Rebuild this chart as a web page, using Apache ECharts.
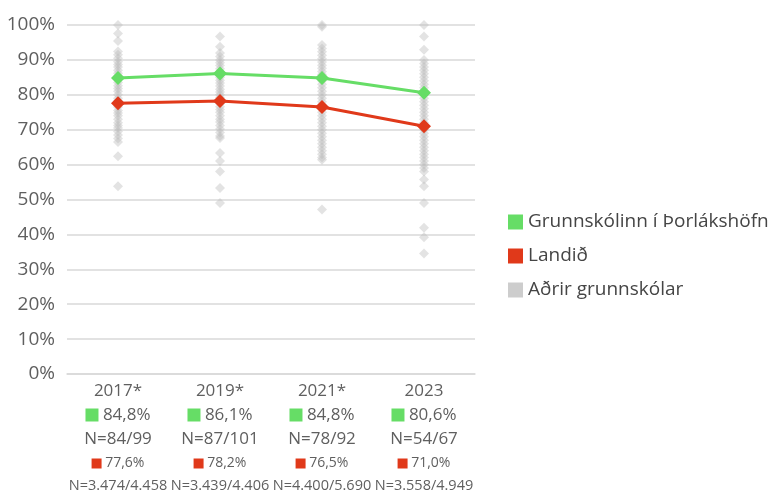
<!DOCTYPE html>
<html>
<head>
<meta charset="utf-8">
<script src="https://cdn.jsdelivr.net/npm/echarts@6/dist/echarts.min.js"></script>
<style>html,body{margin:0;padding:0;background:#fff}#c{width:771px;height:493px}</style>
</head>
<body>
<div id="c"></div>
<script>
const years = ['2017*', '2019*', '2021*', '2023'];
const schoolValues = [84.8, 86.1, 84.8, 80.6];
const schoolN = ['N=84/99', 'N=87/101', 'N=78/92', 'N=54/67'];
const nationValues = [77.6, 78.2, 76.5, 71.0];
const nationN = ['N=3.474/4.458', 'N=3.439/4.406', 'N=4.400/5.690', 'N=3.558/4.949'];
const yTicks = [0, 10, 20, 30, 40, 50, 60, 70, 80, 90, 100];

const others2017 = [100, 97.6, 95.4, 92.4, 91.5, 90.5, 89.5, 88.7, 88, 87, 86.2, 85.4, 84.5, 83.5, 82.6, 81.8, 81, 80, 79, 78.3, 77.5, 76.5, 75.5, 74.8, 74, 73, 72, 71.2, 70.5, 69.5, 68.5, 67.5, 66.5, 62.4, 53.8];
const others2019 = [96.7, 93.8, 92, 91, 90, 89.2, 88.4, 87.5, 86.6, 85.8, 85, 84.2, 83.4, 82.5, 81.6, 80.8, 80, 79.2, 78.4, 77.5, 76.6, 75.8, 75, 74, 73, 72.2, 71.2, 70.2, 69.2, 68.2, 67.6, 63.3, 61, 58, 53.3, 49];
const others2021 = [100, 99.5, 94.3, 93.3, 92.3, 91.3, 90.3, 89.4, 88.5, 87.6, 86.7, 85.8, 85, 84, 83, 82, 81, 80, 79, 78, 77, 76, 75, 74, 73, 72, 71, 70, 69, 68, 67, 66, 65, 64, 63, 62, 61.4, 47.1];
const others2023 = [100, 96.7, 92.9, 90, 89, 88, 87, 86, 85, 84, 83, 82, 81, 80, 79, 78, 77, 76, 75, 74, 73, 72, 71, 70, 69, 68, 67, 66, 65, 64, 63, 62, 61, 60, 59, 58, 55.7, 53.8, 49, 41.9, 39.2, 34.5];

const othersByYear = [others2017, others2019, others2021, others2023];
const othersData = [];
othersByYear.forEach((arr, i) => arr.forEach(v => othersData.push([i, v])));

const GREEN = '#66dd66';
const RED = '#e0391a';
const GREY = '#c0c0c0';
const FONT = 'Open Sans';
const TXT = '#5f5f5f';

const fmt = v => v.toFixed(1).replace('.', ',') + '%';

const chart = echarts.init(document.getElementById('c'), null, {renderer: 'canvas'});
chart.setOption({
  animation: false,
  textStyle: {fontFamily: FONT},
  grid: {left: 67, right: 296, top: 25, bottom: 118},
  legend: {
    orient: 'vertical',
    left: 503,
    top: 205,
    itemWidth: 15,
    itemHeight: 15,
    itemGap: 10,
    icon: 'rect',
    textStyle: {fontFamily: FONT, fontSize: 19, color: '#454545', lineHeight: 24},
    data: [
      {name: 'Grunnskólinn í Þorlákshöfn', itemStyle: {color: GREEN}},
      {name: 'Landið', itemStyle: {color: RED}},
      {name: 'Aðrir grunnskólar', itemStyle: {color: GREY}}
    ]
  },
  xAxis: {
    type: 'category',
    data: years,
    boundaryGap: true,
    axisLine: {lineStyle: {color: '#d9d9d9', width: 1.5}},
    axisTick: {show: false},
    axisLabel: {
      interval: 0,
      margin: 5,
      formatter: (v, i) => '{y|' + v + '}\n{gs|}{gv| ' + fmt(schoolValues[i]) + '}\n{n|' + schoolN[i] + '}\n{rs|}{rv| ' + fmt(nationValues[i]) + '}\n{rn|' + nationN[i] + '}',
      rich: {
        y: {fontSize: 17, color: TXT, lineHeight: 24, fontFamily: FONT},
        gs: {width: 13, height: 13, backgroundColor: GREEN, lineHeight: 24},
        gv: {fontSize: 17, color: TXT, lineHeight: 24, fontFamily: FONT},
        n: {fontSize: 17, color: TXT, lineHeight: 24, fontFamily: FONT},
        rs: {width: 10, height: 10, backgroundColor: RED, lineHeight: 25},
        rv: {fontSize: 14, color: TXT, lineHeight: 25, fontFamily: FONT},
        rn: {fontSize: 14.5, color: TXT, lineHeight: 19, fontFamily: FONT}
      }
    }
  },
  yAxis: {
    type: 'value',
    min: 0,
    max: 100,
    interval: 10,
    axisLine: {show: false},
    axisTick: {show: false},
    axisLabel: {
      margin: 12,
      fontSize: 19,
      color: TXT,
      fontFamily: FONT,
      formatter: v => yTicks.includes(v) ? v + '%' : ''
    },
    splitLine: {lineStyle: {color: '#d9d9d9', width: 1.5}}
  },
  series: [
    {
      name: 'Aðrir grunnskólar',
      type: 'scatter',
      data: othersData,
      symbol: 'diamond',
      symbolSize: 10,
      itemStyle: {color: 'rgba(185,185,185,0.5)'},
      z: 1
    },
    {
      name: 'Landið',
      type: 'line',
      data: nationValues,
      symbol: 'diamond',
      symbolSize: 14,
      lineStyle: {color: RED, width: 3},
      itemStyle: {color: RED},
      z: 3
    },
    {
      name: 'Grunnskólinn í Þorlákshöfn',
      type: 'line',
      data: schoolValues,
      symbol: 'diamond',
      symbolSize: 14,
      lineStyle: {color: GREEN, width: 3},
      itemStyle: {color: GREEN},
      z: 4
    }
  ]
});
</script>
</body>
</html>
